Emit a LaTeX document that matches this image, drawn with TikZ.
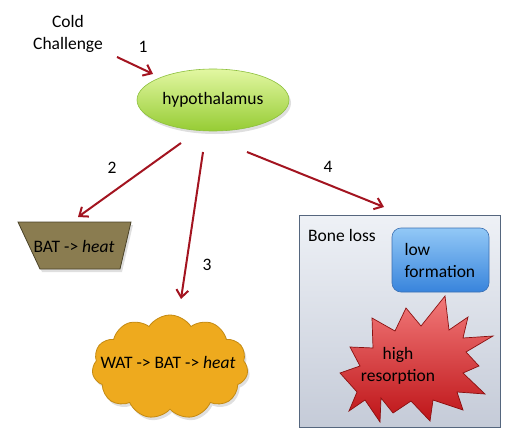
\documentclass[tikz,border=0pt]{standalone}
\usepackage{fontspec}
\setmainfont{Carlito}
\usetikzlibrary{arrows.meta,shapes.geometric,shapes.symbols,shadows}
\definecolor{arrowred}{HTML}{A31420}
\definecolor{greentop}{HTML}{E2F7A2}
\definecolor{greenbot}{HTML}{96CC34}
\definecolor{greenline}{HTML}{8CBF3C}
\definecolor{batfill}{HTML}{8A7C50}
\definecolor{batline}{HTML}{4A4228}
\definecolor{watfill}{HTML}{EEAA1E}
\definecolor{watline}{HTML}{C48A12}
\definecolor{bonetop}{HTML}{EEF1F6}
\definecolor{bonebot}{HTML}{C5CBD8}
\definecolor{boneline}{HTML}{55667E}
\definecolor{lowtop}{HTML}{92C8F6}
\definecolor{lowbot}{HTML}{3884DC}
\definecolor{lowline}{HTML}{3C70B2}
\definecolor{startop}{HTML}{F27A7A}
\definecolor{starbot}{HTML}{BE1418}
\definecolor{starline}{HTML}{8A1010}
\begin{document}
\begin{tikzpicture}[x=1pt,y=-1pt,
  font=\fontsize{17.5}{22}\selectfont,
  conn/.style={draw=arrowred, line width=2pt, -{Straight Barb[length=7.5pt,width=12pt]}},
  lbl/.style={inner sep=0pt},
  softshadow/.style={drop shadow={opacity=0.25, shadow xshift=2pt, shadow yshift=-3pt}}]
\useasboundingbox (0,0) rectangle (517,444);

% Cold challenge
\node[lbl, align=center] (cold) at (68,34) {Cold\\Challenge};

% hypothalamus
\node[ellipse, minimum width=152pt, minimum height=62pt, inner sep=0pt,
      top color=greentop, bottom color=greenbot, draw=greenline, line width=0.6pt,
      softshadow] (hyp) at (213,100) {hypothalamus};

% BAT trapezoid
\path[fill=batfill, draw=batline, line width=0.8pt, softshadow]
  (18,222) -- (131,222) -- (120,269) -- (40,269) -- cycle;
\node[lbl] (bat) at (74,246) {BAT -> \textit{heat}};

% WAT cloud
\node[cloud, cloud puffs=11, cloud puff arc=115, aspect=1.5,
      minimum width=156pt, minimum height=104pt, inner sep=0pt,
      fill=watfill, draw=watline, line width=0.8pt, softshadow] (wat) at (170,367) {};
\node[lbl] (wattext) at (168,362) {WAT -> BAT -> \textit{heat}};

% Bone loss box
\node[rectangle, anchor=north west, minimum width=201pt, minimum height=212pt,
      top color=bonetop, bottom color=bonebot, draw=boneline, line width=0.8pt] (bone) at (299,215) {};
\node[lbl, anchor=west] (bonetext) at (308,235) {Bone loss};

% low formation
\node[rectangle, rounded corners=9pt, minimum width=97pt, minimum height=64pt,
      text width=72pt, inner xsep=12.5pt, align=left,
      top color=lowtop, bottom color=lowbot, draw=lowline, line width=0.6pt] (low) at (440.5,260) {low\\formation};

% high resorption starburst
\path[top color=startop, bottom color=starbot, draw=starline, line width=0.7pt]
  (445,296) -- (449,330) -- (468,317) -- (463,338) -- (493,336) -- (466,352)
  -- (479,366) -- (463,373) -- (485,394) -- (457,392) -- (463,410) -- (433,400)
  -- (430,421) -- (411,401) -- (393,413) -- (381,398) -- (380,422) -- (365,400)
  -- (349,411) -- (357,392) -- (340,373) -- (360,366) -- (350,347) -- (373,348)
  -- (372,318) -- (395,331) -- (406,308) -- (421,326) -- cycle;
\node[lbl, align=center] (high) at (398,366) {high\\resorption};

% connectors
\coordinate (s1) at (117,57);  \coordinate (e1) at (153,74);
\coordinate (s2) at (181,143); \coordinate (e2) at (78,217);
\coordinate (s3) at (203,152); \coordinate (e3) at (181,299);
\coordinate (s4) at (247,152); \coordinate (e4) at (384,207);
\draw[conn] (s1) -- (e1);
\draw[conn] (s2) -- (e2);
\draw[conn] (s3) -- (e3);
\draw[conn] (s4) -- (e4);

\node[lbl] (n1) at (143,47) {1};
\node[lbl] (n2) at (112,168) {2};
\node[lbl] (n3) at (207,265) {3};
\node[lbl] (n4) at (328,167) {4};
\end{tikzpicture}
\end{document}
